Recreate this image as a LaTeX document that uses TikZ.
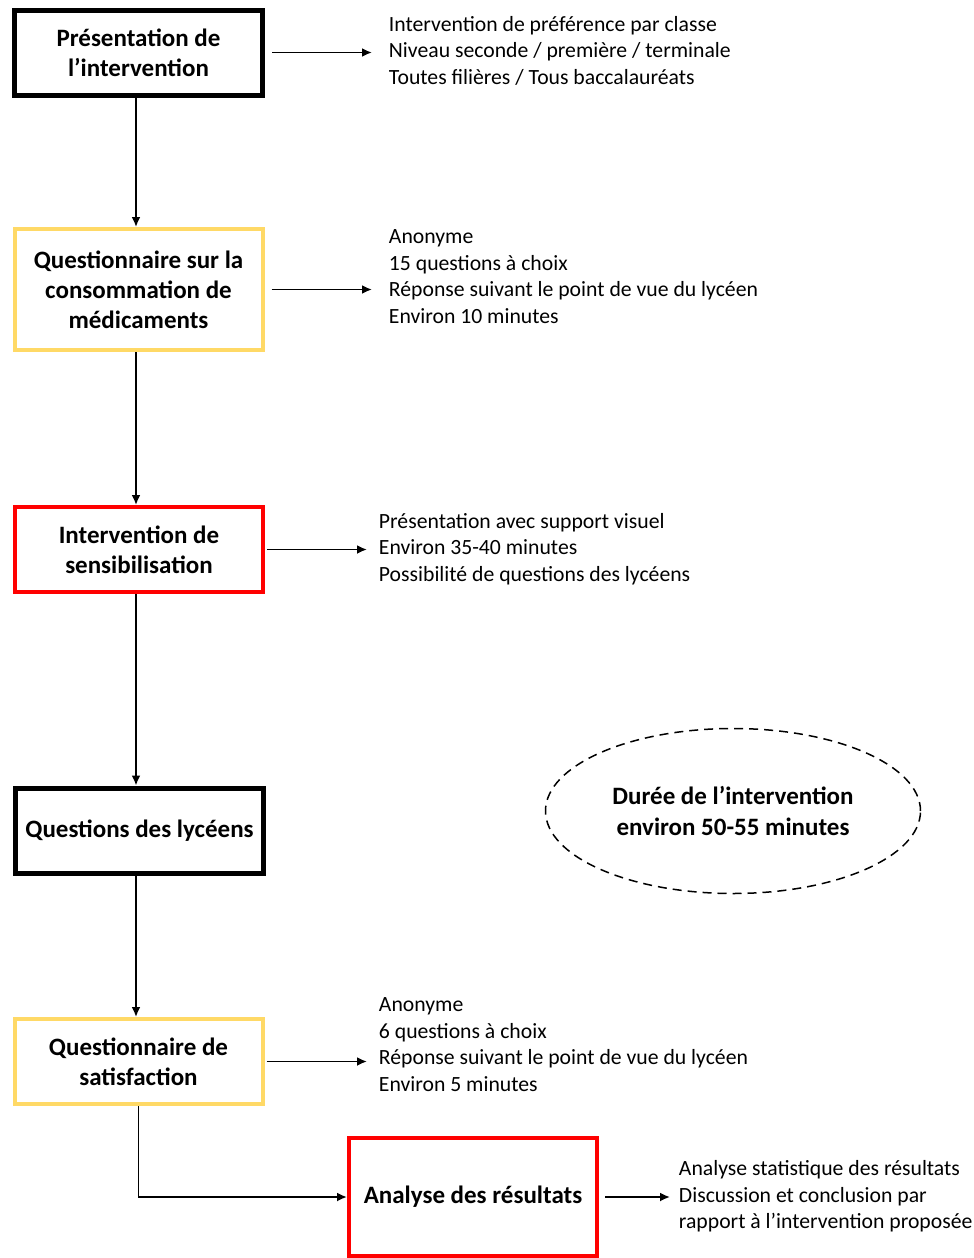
\documentclass[tikz,border=0pt]{standalone}
\usepackage{fontspec}
\setmainfont{Carlito}
\usetikzlibrary{positioning,shapes.geometric,arrows.meta}
\tikzset{>={Latex[length=10pt,width=9pt]}}
\definecolor{jaune}{HTML}{FFD966}
\tikzset{etape/.style={draw, line width=4pt, minimum width=248pt, minimum height=85pt, align=center, font=\fontsize{25}{30}\selectfont\bfseries, inner sep=0pt}}
\tikzset{detail/.style={anchor=west, align=left, inner sep=0pt, font=\fontsize{21.7}{26.5}\selectfont}}

\begin{document}
\begin{tikzpicture}[x=1pt,y=-1pt,line width=1.9pt]
      \useasboundingbox (0,0) rectangle (974,1258);
      % etapes
      \node[etape, line width=5pt] (pres) at (138.5,52.5) {Présentation de\\l’intervention};
      \node[etape, draw=jaune, minimum height=121pt] (quest) at (138.5,289.5) {Questionnaire sur la\\consommation de\\médicaments};
      \node[etape, draw=red] (sens) at (139,549.5) {Intervention de\\sensibilisation};
      \node[etape, line width=5pt] (lyc) at (139.5,830.5) {Questions des lycéens};
      \node[etape, draw=jaune] (satis) at (138.5,1061.5) {Questionnaire de\\satisfaction};
      \node[etape, draw=red, minimum height=118pt] (ana) at (473,1197) {Analyse des résultats};
      % details
      \node[detail] (dpres) at (388,50.5) {Intervention de préférence par classe\\Niveau seconde / première / terminale\\Toutes filières / Tous baccalauréats};
      \node[detail] (dquest) at (388,276.5) {Anonyme\\15 questions à choix\\Réponse suivant le point de vue du lycéen\\Environ 10 minutes};
      \node[detail] (dsens) at (378,549) {Présentation avec support visuel\\Environ 35-40 minutes\\Possibilité de questions des lycéens};
      \node[detail] (dsatis) at (378,1044.5) {Anonyme\\6 questions à choix\\Réponse suivant le point de vue du lycéen\\Environ 5 minutes};
      \node[detail] (dana) at (678,1196.5) {Analyse statistique des résultats\\Discussion et conclusion par\\rapport à l’intervention proposée};
      \node[ellipse, draw, dashed, dash pattern=on 9pt off 6pt, line width=1.5pt, minimum width=375pt, minimum height=165pt, align=center, font=\fontsize{25}{31}\selectfont\bfseries] (duree) at (733,811) {Durée de l’intervention\\environ 50-55 minutes};
      % fleches
      \draw[->] ([xshift=-2.5pt]pres.south) -- ([xshift=-2.5pt]quest.north);
      \draw[->] ([xshift=-2.5pt]quest.south) -- ([xshift=-2.5pt]quest.south |- sens.north);
      \draw[->] ([xshift=-3pt]sens.south) -- ([xshift=-3pt]sens.south |- lyc.north);
      \draw[->] ([xshift=-3.5pt]lyc.south) -- ([xshift=-3.5pt]lyc.south |- satis.north);
      \draw[->] (satis.south) |- (ana.west);
      \draw[->, shorten <=7pt, shorten >=16pt] (pres.east) -- (pres.east -| dpres.west);
      \draw[->, shorten <=7pt, shorten >=16pt] (quest.east) -- (quest.east -| dquest.west);
      \draw[->, shorten <=2pt, shorten >=11pt] (sens.east) -- (sens.east -| dsens.west);
      \draw[->, shorten <=2pt, shorten >=11pt] (satis.east) -- (satis.east -| dsatis.west);
      \draw[->, shorten <=6pt, shorten >=8pt] (ana.east) -- (ana.east -| dana.west);
    \end{tikzpicture}
\end{document}
